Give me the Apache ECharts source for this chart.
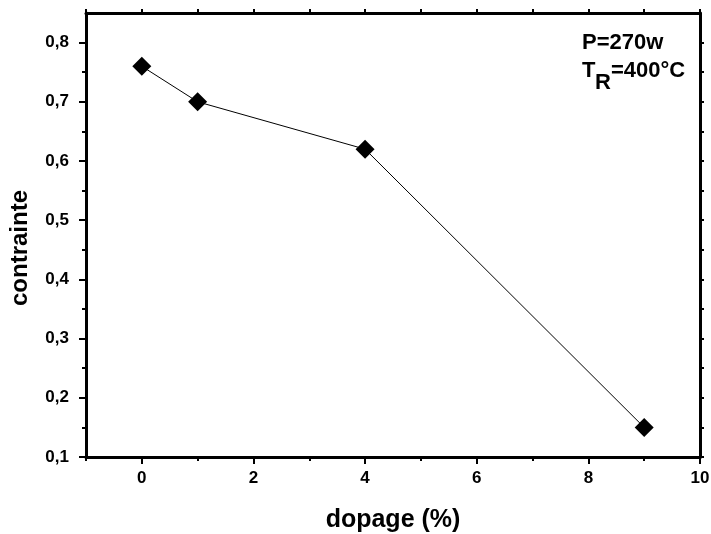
<!DOCTYPE html>
<html>
<head>
<meta charset="utf-8">
<script src="https://cdn.jsdelivr.net/npm/echarts@6/dist/echarts.min.js"></script>
<style>
  html, body { margin: 0; padding: 0; background: #fff; }
  #chart { width: 711px; height: 534px; }
</style>
</head>
<body>
<div id="chart"></div>
<script>
// data
const dopage = [0, 1, 4, 9]
const contrainte = [0.76, 0.70, 0.62, 0.15]

// tick positions
const xMajor = [0, 2, 4, 6, 8, 10]
const xMinor = [-1, 1, 3, 5, 7, 9]
const xAll = [-1, 0, 1, 2, 3, 4, 5, 6, 7, 8, 9, 10]
const yMajor = [0.1, 0.2, 0.3, 0.4, 0.5, 0.6, 0.7, 0.8]
const yMinor = [0.15, 0.25, 0.35, 0.45, 0.55, 0.65, 0.75]
const yAll = [0.1, 0.15, 0.2, 0.25, 0.3, 0.35, 0.4, 0.45, 0.5, 0.55, 0.6, 0.65, 0.7, 0.75, 0.8]

const FONT = 'Liberation Sans, Arial, sans-serif'
const chart = echarts.init(document.getElementById('chart'))

// extra axes that only carry tick marks (minor ticks, top and right frame)
const tickAxis = (pos, values, len, range, withLine) => ({
  type: 'value',
  position: pos,
  min: range[0],
  max: range[1],
  axisLine: { show: !!withLine, onZero: false, lineStyle: { color: '#000', width: 3 } },
  axisTick: { show: true, customValues: values, length: len, lineStyle: { color: '#000', width: 2 } },
  axisLabel: { show: false },
  splitLine: { show: false },
})

const option = {
  animation: false,
  backgroundColor: '#fff',
  grid: { left: 86, right: 11, top: 13, bottom: 77, outerBoundsMode: 'none' },
  xAxis: [
    {
      type: 'value',
      min: -1,
      max: 10,
      position: 'bottom',
      name: 'dopage (%)',
      nameLocation: 'middle',
      nameGap: 51,
      nameTextStyle: { fontFamily: FONT, fontWeight: 'bold', fontSize: 25, color: '#000' },
      axisLine: { show: true, onZero: false, lineStyle: { color: '#000', width: 3 } },
      axisTick: { show: true, customValues: xMajor, length: 7, lineStyle: { color: '#000', width: 2 } },
      axisLabel: {
        customValues: xMajor,
        margin: 13,
        fontFamily: FONT, fontWeight: 'bold', fontSize: 17, color: '#000',
      },
      splitLine: { show: false },
    },
    tickAxis('bottom', xMinor, 4, [-1, 10], false),
    tickAxis('top', xAll, 4, [-1, 10], true),
  ],
  yAxis: [
    {
      type: 'value',
      min: 0.1,
      max: 0.85,
      position: 'left',
      name: 'contrainte',
      nameLocation: 'middle',
      nameGap: 54,
      nameTextStyle: { fontFamily: FONT, fontWeight: 'bold', fontSize: 24, color: '#000', padding: [0, 26, 0, 0] },
      axisLine: { show: true, onZero: false, lineStyle: { color: '#000', width: 3 } },
      axisTick: { show: true, customValues: yMajor, length: 7, lineStyle: { color: '#000', width: 2 } },
      axisLabel: {
        customValues: yMajor,
        margin: 17,
        formatter: v => v.toFixed(1).replace('.', ','),
        fontFamily: FONT, fontWeight: 'bold', fontSize: 17, color: '#000',
      },
      splitLine: { show: false },
    },
    tickAxis('left', yMinor, 4, [0.1, 0.85], false),
    tickAxis('right', yAll, 4, [0.1, 0.85], true),
  ],
  series: [
    {
      type: 'line',
      data: dopage.map((x, i) => [x, contrainte[i]]),
      symbol: 'diamond',
      symbolSize: 19,
      itemStyle: { color: '#000' },
      lineStyle: { color: '#000', width: 1 },
      z: 5,
    },
  ],
  graphic: [
    { type: 'text', left: 582, top: 32, style: { text: 'P=270w', font: 'bold 22px ' + FONT, fill: '#000' } },
    { type: 'text', left: 582, top: 60, style: { text: 'T', font: 'bold 22px ' + FONT, fill: '#000' } },
    { type: 'text', left: 595, top: 72, style: { text: 'R', font: 'bold 22px ' + FONT, fill: '#000' } },
    { type: 'text', left: 611, top: 60, style: { text: '=400°C', font: 'bold 22px ' + FONT, fill: '#000' } },
  ],
}

option && chart.setOption(option)
</script>
</body>
</html>
